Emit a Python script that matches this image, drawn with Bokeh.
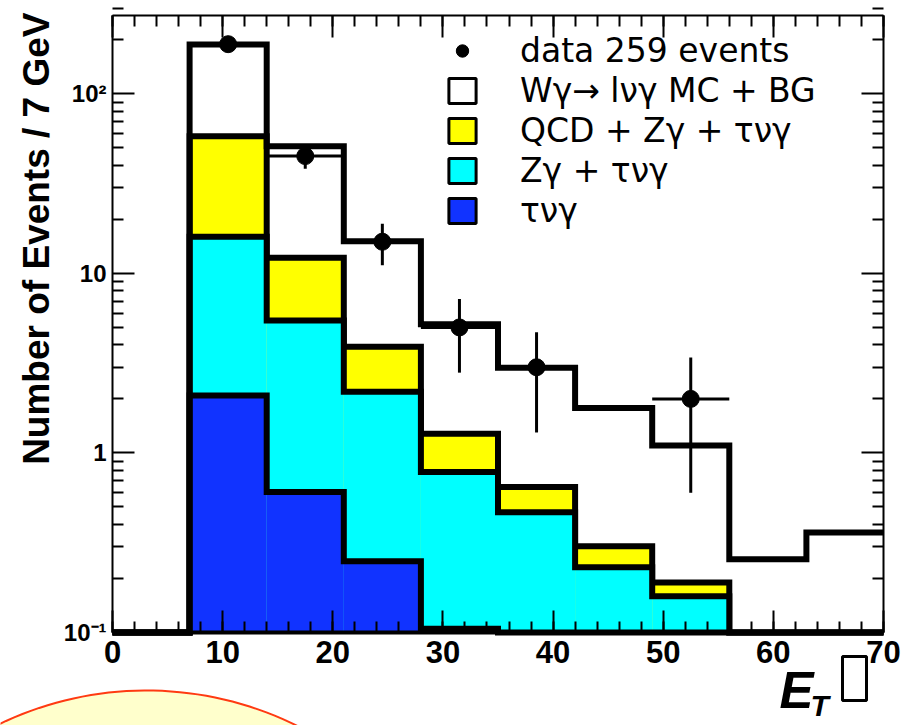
import numpy as np
from bokeh.plotting import figure
from bokeh.models import (Range1d, LinearAxis, LogAxis, Legend, LegendItem, Label,
                          PolyAnnotation, FixedTicker)
from bokeh.embed import file_html
from bokeh.resources import INLINE

# ---------------- data ----------------
bin_edges = [0, 7, 14, 21, 28, 35, 42, 49, 56, 63, 70]
total_mc = [0, 188, 51, 15.1, 5.2, 2.98, 1.78, 1.10, 0.256, 0.36]      # W gamma -> l nu gamma MC + BG
qcd_zg_tau = [0, 58, 12.2, 3.9, 1.28, 0.646, 0.302, 0.19, 0, 0]        # QCD + Z gamma + tau nu gamma
zg_tau = [0, 16.0, 5.46, 2.19, 0.783, 0.468, 0.231, 0.159, 0, 0]       # Z gamma + tau nu gamma
tau_nu_g = [0, 2.09, 0.606, 0.249, 0.105, 0, 0, 0, 0, 0]               # tau nu gamma

data_x = [10.5, 17.5, 24.5, 31.5, 38.5, 52.5]
data_y = [189, 45, 15, 5, 3, 2]
data_yerr = [13.7, 6.7, 3.9, 2.2, 1.7, 1.4]
data_xerr = [3.5, 3.5, 3.5, 3.5, 3.5, 3.5]

legend_labels = ["data 259 events", "W\u03b3\u2192 l\u03bd\u03b3 MC + BG", "QCD + Z\u03b3 + \u03c4\u03bd\u03b3",
                 "Z\u03b3 + \u03c4\u03bd\u03b3", "\u03c4\u03bd\u03b3"]
x_ticks = [0, 10, 20, 30, 40, 50, 60, 70]
y_ticks = [0.1, 1, 10, 100]
y_tick_labels = {0.1: "10\u207b\u00b9", 1: "1", 10: "10", 100: "10\u00b2"}
y_title = "Number of Events / 7 GeV"

# ---------------- geometry ----------------
# The frame covers the whole canvas, so that the slide decorations below the
# histogram box are not clipped; the axes are pinned to the box edges.
W, H = 918, 725
BOX_L, BOX_R, BOX_T, BOX_B = 112, 883, 15, 632      # pixel edges of the histogram box
XMIN, XMAX = 0, 70
YMIN, YMAX = 0.1, 273
FONT = "Liberation Sans"

px_per_x = (BOX_R - BOX_L) / (XMAX - XMIN)
dec_px = (BOX_B - BOX_T) / (np.log10(YMAX) - np.log10(YMIN))
x_lo = XMIN - BOX_L / px_per_x
x_hi = XMAX + (W - BOX_R) / px_per_x
y_lo = 10 ** (np.log10(YMIN) - (H - BOX_B) / dec_px)
y_hi = 10 ** (np.log10(YMAX) + BOX_T / dec_px)

p = figure(width=W, height=H, x_range=Range1d(x_lo, x_hi), y_range=Range1d(y_lo, y_hi),
           y_axis_type="log", output_backend="svg", toolbar_location=None,
           min_border=0, min_border_left=0, min_border_right=0, min_border_top=0, min_border_bottom=0,
           background_fill_color="white", border_fill_color="white", outline_line_color=None)
p.grid.visible = False

x_minor = list(range(0, 71, 2))
y_minor = [k * 10.0 ** e for e in range(-1, 3) for k in range(2, 10)]


def style_axis(ax, size):
    ax.axis_line_color = "black"
    ax.axis_line_width = 2
    ax.major_tick_line_width = 2
    ax.minor_tick_line_width = 2
    ax.major_tick_in = 22
    ax.major_tick_out = 0
    ax.minor_tick_in = 11
    ax.minor_tick_out = 0
    ax.major_label_text_font = FONT
    ax.major_label_text_font_style = "bold"
    ax.major_label_text_color = "black"
    ax.major_label_text_font_size = size


xa = p.xaxis[0]
xa.ticker = FixedTicker(ticks=x_ticks, minor_ticks=x_minor)
xa.bounds = (XMIN, XMAX)
xa.fixed_location = YMIN
style_axis(xa, "31px")
xa.axis_line_width = 4
xa.major_label_standoff = 8

ya = p.yaxis[0]
ya.ticker = FixedTicker(ticks=y_ticks, minor_ticks=y_minor)
ya.major_label_overrides = y_tick_labels
ya.bounds = (YMIN, YMAX)
ya.fixed_location = XMIN
style_axis(ya, "24px")
ya.major_label_standoff = 6

# mirrored tick marks on the top and right edges, without labels
top_ax = LinearAxis(ticker=FixedTicker(ticks=x_ticks, minor_ticks=x_minor),
                    major_label_overrides={t: "" for t in x_ticks},
                    bounds=(XMIN, XMAX), fixed_location=YMAX)
style_axis(top_ax, "10px")
top_ax.major_label_standoff = 0
p.add_layout(top_ax, "above")
right_ax = LogAxis(ticker=FixedTicker(ticks=y_ticks, minor_ticks=y_minor),
                   major_label_overrides={t: "" for t in y_ticks},
                   bounds=(YMIN, YMAX), fixed_location=XMAX)
style_axis(right_ax, "10px")
right_ax.major_label_standoff = 0
p.add_layout(right_ax, "right")

# ---------------- histograms ----------------
left = bin_edges[:-1]
right = bin_edges[1:]


def shown(vals):
    # bins below the axis minimum are drawn on the axis, as the original does
    return [max(v, YMIN) for v in vals]


def step_line(vals):
    s = shown(vals)
    p.step(x=bin_edges, y=s + [s[-1]], mode="after", line_color="black",
           line_width=6, line_join="miter")


for vals, col in [(qcd_zg_tau, "#ffff00"), (zg_tau, "#00ffff"), (tau_nu_g, "#1133ff")]:
    p.quad(left=left, right=right, bottom=YMIN, top=shown(vals), fill_color=col, line_color=None)
    step_line(vals)
step_line(total_mc)

# ---------------- data points ----------------
p.segment(x0=data_x, x1=data_x,
          y0=[y - e for y, e in zip(data_y, data_yerr)], y1=[y + e for y, e in zip(data_y, data_yerr)],
          line_color="black", line_width=3)
p.segment(x0=[x - e for x, e in zip(data_x, data_xerr)], x1=[x + e for x, e in zip(data_x, data_xerr)],
          y0=data_y, y1=data_y, line_color="black", line_width=3)
pts = p.scatter(x=data_x, y=data_y, size=17, color="black")

# ---------------- legend ----------------
box_sets = [(total_mc, "white"), (qcd_zg_tau, "#ffff00"), (zg_tau, "#00ffff"), (tau_nu_g, "#1133ff")]
box_r = [p.quad(left=left, right=right, bottom=YMIN, top=shown(v), fill_color=c,
                line_color="black", line_width=3, visible=False) for v, c in box_sets]
items = [LegendItem(label=legend_labels[0], renderers=[pts])]
items += [LegendItem(label=lab, renderers=[r]) for lab, r in zip(legend_labels[1:], box_r)]
legend = Legend(items=items, location=(445, H - 230), glyph_width=34, glyph_height=31,
                label_height=31, label_standoff=41, spacing=1, padding=0, margin=0,
                border_line_alpha=0, background_fill_alpha=0, click_policy="none",
                label_text_font="DejaVu Sans", label_text_font_size="33px", label_text_color="black")
p.add_layout(legend)

# ---------------- titles ----------------
p.add_layout(Label(x=36, y=H - 12, x_units="screen", y_units="screen", text=y_title,
                   angle=90, angle_units="deg", text_align="right", text_baseline="middle",
                   text_font=FONT, text_font_style="bold", text_font_size="37px", text_color="black"))
p.add_layout(Label(x=779, y=H - 661, x_units="screen", y_units="screen", text="E",
                   text_font=FONT, text_font_style="bold italic", text_font_size="51px",
                   text_baseline="top", text_color="black"))
p.add_layout(Label(x=810, y=H - 688, x_units="screen", y_units="screen", text="T",
                   text_font=FONT, text_font_style="bold italic", text_font_size="30px",
                   text_baseline="top", text_color="black"))
# empty glyph box after E_T
p.add_layout(PolyAnnotation(xs=[842, 866, 866, 842], ys=[H - 656, H - 656, H - 700, H - 700],
                            xs_units="screen", ys_units="screen",
                            fill_color=None, fill_alpha=0, line_color="black", line_alpha=1,
                            line_width=3))

# decorative slide ellipse in the lower left corner
t = np.linspace(0, 2 * np.pi, 240)
cx, cy, r = 146, 1029, 339
p.add_layout(PolyAnnotation(xs=list(cx + r * np.cos(t)), ys=list(H - (cy + r * np.sin(t))),
                            xs_units="screen", ys_units="screen",
                            fill_color="#ffffcc", fill_alpha=1, line_color="#ff3a12", line_alpha=1,
                            line_width=2))

open("out.html", "w").write(file_html(p, INLINE))
